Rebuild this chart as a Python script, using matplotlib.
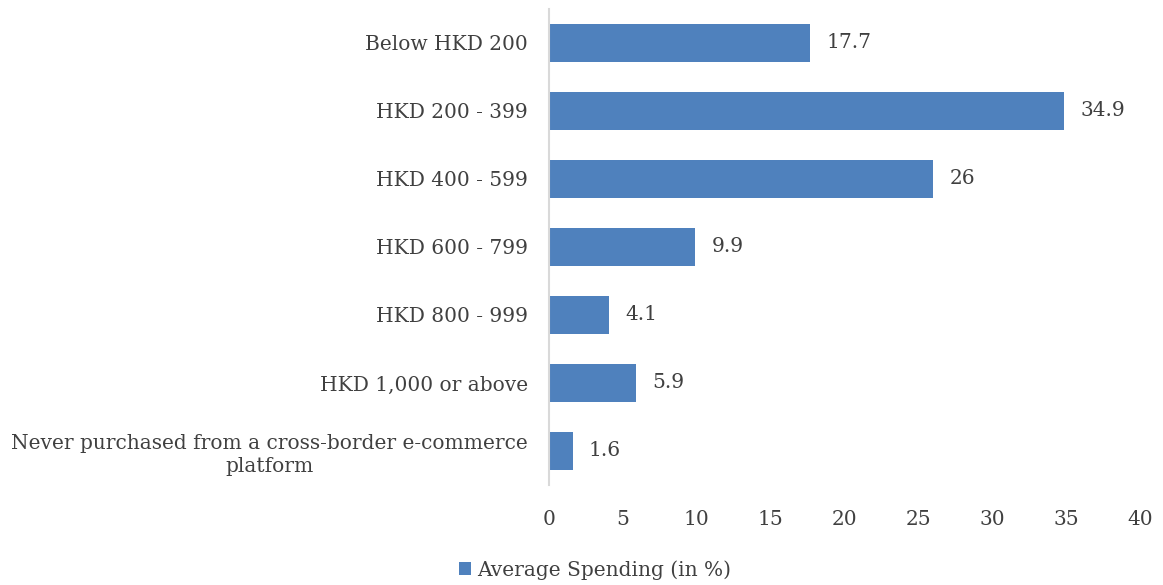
import matplotlib.pyplot as plt

categories = [
    "Below HKD 200",
    "HKD 200 - 399",
    "HKD 400 - 599",
    "HKD 600 - 799",
    "HKD 800 - 999",
    "HKD 1,000 or above",
    "Never purchased from a cross-border e-commerce\nplatform",
]
spending = [17.7, 34.9, 26, 9.9, 4.1, 5.9, 1.6]
value_labels = ["17.7", "34.9", "26", "9.9", "4.1", "5.9", "1.6"]
x_ticks = [0, 5, 10, 15, 20, 25, 30, 35, 40]

plt.rcParams["font.family"] = ["DejaVu Serif"]
text_color = "#404040"
bar_color = "#4f81bd"
fs = 14.5

fig = plt.figure(figsize=(11.63, 5.85), dpi=100)
ax = fig.add_axes([0.472, 0.171, 0.508, 0.814])

pos = list(range(len(categories)))
bars = ax.barh(pos, spending, height=0.56, color=bar_color,
               label="Average Spending (in %)")

for y, v, lab in zip(pos, spending, value_labels):
    ax.text(v + 1.1, y, lab, va="center", ha="left",
            fontsize=fs, color=text_color)

ax.set_yticks(pos)
ax.set_yticklabels(categories, fontsize=fs, color=text_color,
                   multialignment="center", linespacing=1.3)
ax.set_ylim(len(categories) - 0.5, -0.5)
ax.set_xlim(0, 40)
ax.set_xticks(x_ticks)
ax.set_xticklabels([str(t) for t in x_ticks], fontsize=fs, color=text_color)

ax.tick_params(axis="both", length=0)
ax.tick_params(axis="y", pad=15)
ax.tick_params(axis="x", pad=18)
for side in ["top", "right", "bottom"]:
    ax.spines[side].set_visible(False)
ax.spines["left"].set_color("#d9d9d9")
ax.spines["left"].set_linewidth(1.5)

fig.legend(handles=[bars], loc="lower center", bbox_to_anchor=(0.512, -0.022),
           frameon=False, fontsize=fs, labelcolor=text_color,
           handlelength=0.6, handleheight=0.6, handletextpad=0.3)

fig.savefig("out.png", dpi=100)
